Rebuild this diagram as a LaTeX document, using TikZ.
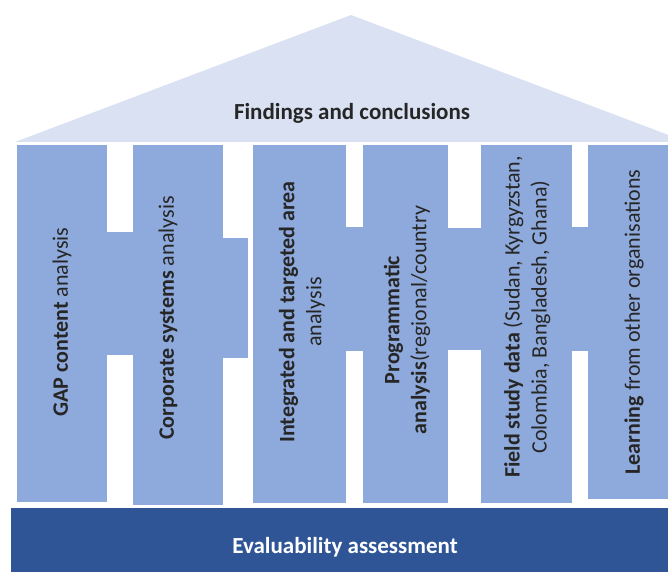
\documentclass[tikz,border=0pt]{standalone}
\usepackage{fontspec}
\setmainfont{Carlito}
\usepackage{tikz}
\usetikzlibrary{positioning}
\definecolor{roofblue}{HTML}{D9E1F2}
\definecolor{pillarblue}{HTML}{8EA9DB}
\definecolor{baseblue}{HTML}{2F5597}
\tikzset{
  roof/.style={fill=roofblue},
  pillar/.style={fill=pillarblue},
  basebar/.style={fill=baseblue},
  pillartext/.style={rotate=90, align=center, text=black!85, font=\fontsize{22}{27}\selectfont},
  headtext/.style={font=\bfseries\fontsize{23}{27}\selectfont, text=black!85},
  foottext/.style={font=\bfseries\fontsize{23}{27}\selectfont, text=white}
}

\begin{document}
\begin{tikzpicture}[x=1pt, y=-1pt]
      \useasboundingbox (0,0) rectangle (668,572);
      \clip (0,0) rectangle (668,572);
      % roof
      \fill[roof] (15,142) -- (351,15) -- (687,142) -- cycle;
      \node[headtext] (roof) at (352,113) {Findings and conclusions};
      % pillars
      \fill[pillar] (17,145) rectangle (107,502);
      \fill[pillar] (133,145) rectangle (223,505);
      \fill[pillar] (253,145) rectangle (346,503);
      \fill[pillar] (363,145) rectangle (448,503);
      \fill[pillar] (481,145) rectangle (572,503);
      \fill[pillar] (588,145) rectangle (668,499);
      % cross pieces
      \fill[pillar] (107,232) rectangle (133,355);
      \fill[pillar] (223,238) rectangle (248,358);
      \fill[pillar] (346,227) rectangle (363,351);
      \fill[pillar] (448,228) rectangle (481,350);
      \fill[pillar] (572,227) rectangle (588,351);
      \node[pillartext] (gap) at (62,322) {\textbf{GAP content} analysis};
      \node[pillartext] (corp) at (168,318) {\textbf{Corporate systems} analysis};
      \node[pillartext] (integ) at (302,312) {\textbf{Integrated and targeted area}\\analysis};
      \node[pillartext] (prog) at (407,320) {\textbf{Programmatic}\\\textbf{analysis}(regional/country};
      \node[pillartext] (field) at (527,317) {\textbf{Field study data} (Sudan, Kyrgyzstan,\\Colombia, Bangladesh, Ghana)};
      \node[pillartext] (learn) at (634,322) {\textbf{Learning} from other organisations};
      % base
      \fill[basebar] (11,508) rectangle (668,572);
      \node[foottext] (base) at (345,547) {Evaluability assessment};
    \end{tikzpicture}
\end{document}
